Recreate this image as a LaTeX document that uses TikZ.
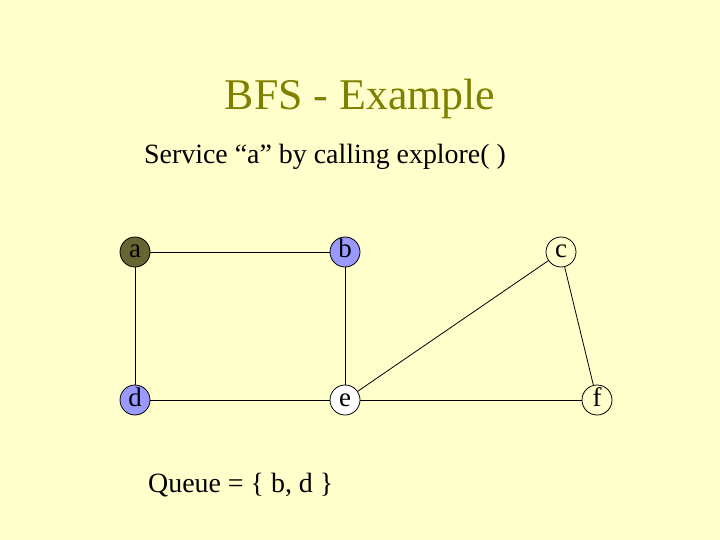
\documentclass[tikz,border=0pt]{standalone}
\usepackage{fontspec}
\setmainfont{Liberation Serif}
\definecolor{bgc}{RGB}{255,255,204}
\definecolor{titlec}{RGB}{128,128,0}
\definecolor{visited}{RGB}{102,102,51}
\definecolor{queued}{RGB}{153,153,255}
\begin{document}
\begin{tikzpicture}[x=1bp,y=-1bp,
  vtx/.style={circle,draw=black,line width=0.8bp,minimum size=30bp,inner sep=0pt,text height=12bp,text depth=0bp,font=\fontsize{27}{27}\selectfont},
  edge/.style={draw=black,line width=0.8bp}]
\fill[bgc] (0,0) rectangle (720,540);
\useasboundingbox (0,0) rectangle (720,540);
\node[anchor=base,text=titlec,font=\fontsize{44}{44}\selectfont,inner sep=0pt] (title) at (360,110) {BFS - Example};
\node[anchor=base,font=\fontsize{28}{28}\selectfont,inner sep=0pt] (sub) at (325,164) {Service “a” by calling explore( )};
\node[vtx,fill=visited] (a) at (135,252) {a};
\node[vtx,fill=queued] (b) at (345,252) {b};
\node[vtx] (c) at (561,252) {c};
\node[vtx,fill=queued] (d) at (135,400) {d};
\node[vtx,fill=white] (e) at (345,400) {e};
\node[vtx] (f) at (597,400) {f};
\draw[edge] (a) -- (b);
\draw[edge] (a) -- (d);
\draw[edge] (b) -- (e);
\draw[edge] (d) -- (e);
\draw[edge] (e) -- (f);
\draw[edge] (e) -- (c);
\draw[edge] (c) -- (f);
\node[anchor=base west,font=\fontsize{28}{28}\selectfont,inner sep=0pt] (queue) at (148,492) {Queue = \{ b, d \}};
\end{tikzpicture}
\end{document}
